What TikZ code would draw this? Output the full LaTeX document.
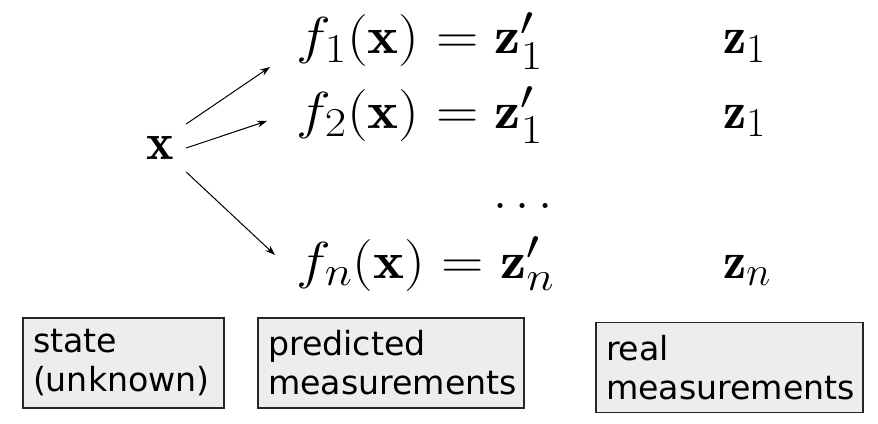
\RequirePackage{fix-cm}
\documentclass[tikz,border=0pt]{standalone}
\usepackage{amsmath}
\usepackage{fontspec}
\setsansfont{DejaVu Sans}
\usetikzlibrary{positioning, arrows.meta}
\DeclareMathSizes{26}{26}{20.5}{16}
\newcommand{\eqwide}[1]{\scalebox{1.13}[1]{$#1$}}
\tikzset{mathlabel/.style={
        inner sep=0pt,
        anchor=base west,
        font=\fontsize{26}{31}\selectfont
}}
\tikzset{textbox/.style={
        draw=black!85,
        fill=black!7,
        rectangle,
        line width=0.6pt,
        inner xsep=5pt,
        minimum height=45pt,
        align=left,
        font=\sffamily\fontsize{16.6}{19.5}\selectfont
}}
\tikzset{mapedge/.style={draw,line width=0.5pt,-{Stealth[length=5pt,width=3.5pt]}}}

\begin{document}
\begin{tikzpicture}[x=0.5pt,y=-0.5pt]
\useasboundingbox (0,0) rectangle (878,423);
\node[mathlabel, anchor=center, inner sep=6pt] (xs) at (160,148) {$\mathbf{x}$};
\node[mathlabel] (f1) at (296,54) {\eqwide{f_1(\mathbf{x}) = \mathbf{z}'_1}};
\node[mathlabel] (f2) at (296,128) {\eqwide{f_2(\mathbf{x}) = \mathbf{z}'_1}};
\node[mathlabel, anchor=base east] (dots) at (562,208) {$\dots$};
\node[mathlabel] (fn) at (296,278) {\eqwide{f_n(\mathbf{x}) = \mathbf{z}'_n}};
\node[mathlabel] (z1) at (723,54) {$\mathbf{z}_1$};
\node[mathlabel] (z2) at (723,128) {$\mathbf{z}_1$};
\node[mathlabel] (zn) at (723,278) {$\mathbf{z}_n$};

% arrow tips stop short of the equations
\coordinate (tip1) at (270,67);
\coordinate (tip2) at (267,121);
\coordinate (tip3) at (275,255);
\draw[mapedge] (xs.north east) -- (tip1);
\draw[mapedge] (xs.east) -- (tip2);
\draw[mapedge] (xs.south east) -- (tip3);

\node[textbox, text width=90.5pt] (state) at (123.5,363) {state\\(unknown)};
\node[textbox, text width=123pt] (pred) at (391,363) {predicted\\measurements};
\node[textbox, text width=123.5pt] (real) at (729.5,367.5) {real\\measurements};
\end{tikzpicture}
\end{document}
